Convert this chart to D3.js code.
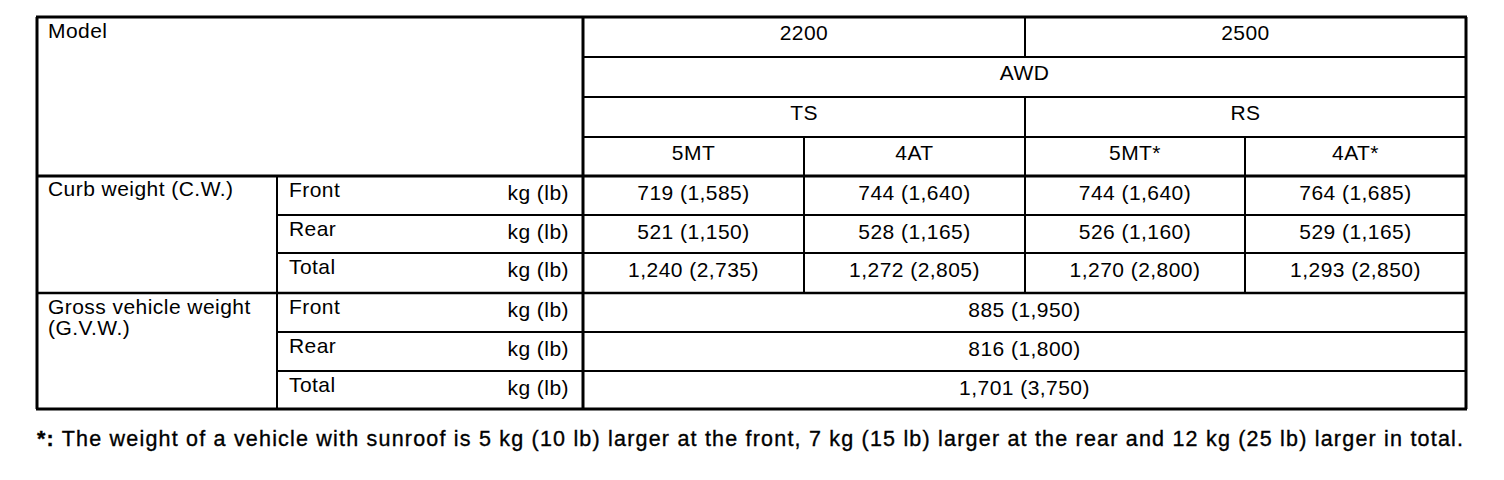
<!DOCTYPE html>
<html>
<head>
<meta charset="utf-8">
<script src="https://cdn.jsdelivr.net/npm/d3@7"></script>
<style>
html,body{margin:0;padding:0;background:#fff;}
svg{display:block;}
text{font-family:"Liberation Sans",Arial,Helvetica,sans-serif;fill:#000;}
</style>
</head>
<body>
<svg id="chart" width="1504" height="480"></svg>
<script>
// ---- data ----
const headerTitle = "Model";
const models = ["2200", "2500"];
const driveType = "AWD";
const grades = ["TS", "RS"];
const transmissions = ["5MT", "4AT", "5MT*", "4AT*"];
const groups = ["Curb weight (C.W.)", ["Gross vehicle weight", "(G.V.W.)"]];
const parts = ["Front", "Rear", "Total"];
const unitLabel = "kg (lb)";
const curbFrontKg = [719, 744, 744, 764];
const curbFrontLb = [1585, 1640, 1640, 1685];
const curbRearKg = [521, 528, 526, 529];
const curbRearLb = [1150, 1165, 1160, 1165];
const curbTotalKg = [1240, 1272, 1270, 1293];
const curbTotalLb = [2735, 2805, 2800, 2850];
const gvwKg = [885, 816, 1701];
const gvwLb = [1950, 1800, 3750];
const footnote = "*: The weight of a vehicle with sunroof is 5 kg (10 lb) larger at the front, 7 kg (15 lb) larger at the rear and 12 kg (25 lb) larger in total.";

// ---- layout ----
const svg = d3.select("#chart");
const fmt = d3.format(",");
const cell = (kg, lb) => `${fmt(kg)} (${fmt(lb)})`;

const rowLines = [17, 57, 97, 137, 176, 215, 253, 293, 332, 371, 409];
const ry = i => rowLines[i];
const xL = 37, xR = 1466, xPart = 277, xVal = 583;
const colX = [583, 804, 1025, 1245, 1466];
const cx = i => colX[i];
const FS = 21;

const g = svg.append("g");

function txt(xp, yp, s, anchor) {
  return g.append("text").attr("x", xp).attr("y", yp)
    .attr("font-size", FS).attr("text-anchor", anchor || "start")
    .attr("letter-spacing", "0.45px").text(s);
}

// header
txt(xL + 11, ry(0) + 21, headerTitle);
models.forEach((m, i) => txt((cx(2 * i) + cx(2 * i + 2)) / 2, ry(0) + 23, m, "middle"));
txt((cx(0) + cx(4)) / 2, ry(1) + 23, driveType, "middle");
grades.forEach((m, i) => txt((cx(2 * i) + cx(2 * i + 2)) / 2, ry(2) + 23, m, "middle"));
transmissions.forEach((m, i) => txt((cx(i) + cx(i + 1)) / 2, ry(3) + 23, m, "middle"));

// row labels
txt(xL + 11, ry(4) + 20, groups[0]);
txt(xL + 11, ry(7) + 21, groups[1][0]);
txt(xL + 11, ry(7) + 42, groups[1][1]);
[0, 1].forEach(gi => {
  parts.forEach((p, pi) => {
    const r = 4 + gi * 3 + pi;
    txt(xPart + 12, ry(r) + 21, p);
    txt(xVal - 14, ry(r) + 24, unitLabel, "end");
  });
});

// curb values
const curb = [[curbFrontKg, curbFrontLb], [curbRearKg, curbRearLb], [curbTotalKg, curbTotalLb]];
curb.forEach((pair, pi) => {
  pair[0].forEach((kg, ci) => {
    txt((cx(ci) + cx(ci + 1)) / 2, ry(4 + pi) + 24, cell(kg, pair[1][ci]), "middle");
  });
});
// gvw values
gvwKg.forEach((kg, pi) => {
  txt((cx(0) + cx(4)) / 2, ry(7 + pi) + 24, cell(kg, gvwLb[pi]), "middle");
});

// footnote
const fn = g.append("text").attr("x", xL).attr("y", 446).attr("font-size", 21.5)
  .attr("stroke", "#000").attr("stroke-width", 0.35);
fn.append("tspan").attr("font-weight", "bold").text(footnote.slice(0, 2));
fn.append("tspan").text(footnote.slice(2));
fn.attr("textLength", 1426).attr("lengthAdjust", "spacing");

// ---- lines ----
const lines = [];
const H = (yy, x1, x2, w) => lines.push({x1, y1: yy, x2, y2: yy, w});
const V = (xx, y1, y2, w) => lines.push({x1: xx, y1, x2: xx, y2, w});

H(ry(0), xL, xR, 3);
H(ry(1), xVal, xR, 2);
H(ry(2), xVal, xR, 2);
H(ry(3), xVal, xR, 2);
H(ry(4), xL, xR, 3);
H(ry(5), xPart, xR, 2);
H(ry(6), xPart, xR, 2);
H(ry(7), xL, xR, 2.5);
H(ry(8), xPart, xR, 2);
H(ry(9), xPart, xR, 2);
H(ry(10), xL, xR, 3);

V(xL, ry(0), ry(10), 3);
V(xR, ry(0), ry(10), 3);
V(xVal, ry(0), ry(10), 3);
V(xPart, ry(4), ry(10), 2);
V(cx(2), ry(0), ry(1), 2);
V(cx(2), ry(2), ry(7), 2);
V(cx(1), ry(3), ry(7), 2);
V(cx(3), ry(3), ry(7), 2);

svg.append("g").selectAll("line").data(lines).join("line")
  .attr("x1", d => d.x1 - (d.y1 === d.y2 ? 1 : 0))
  .attr("x2", d => d.x2 + (d.y1 === d.y2 ? 1 : 0))
  .attr("y1", d => d.y1).attr("y2", d => d.y2)
  .attr("stroke", "#000").attr("stroke-width", d => d.w);
</script>
</body>
</html>
